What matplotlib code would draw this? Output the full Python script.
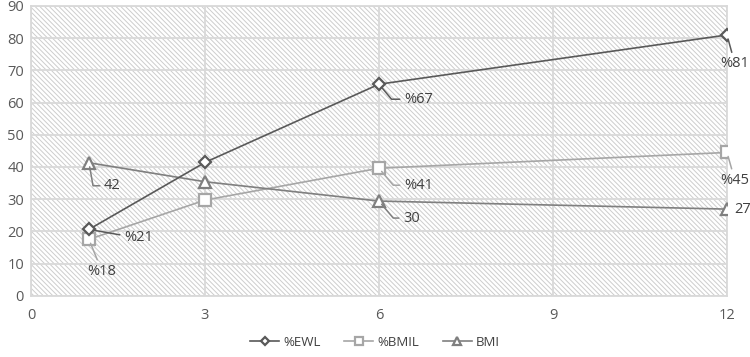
import matplotlib.pyplot as plt
from matplotlib.patches import Rectangle

plt.rcParams['font.family'] = ['Open Sans', 'DejaVu Sans']
plt.rcParams['hatch.linewidth'] = 0.7

# months after surgery
months = [1, 3, 6, 12]
ewl = [20.6, 41.4, 65.7, 81]
bmil = [17.5, 29.7, 39.6, 44.5]
bmi = [41.3, 35.4, 29.4, 26.9]

ewl_labels = ['%21', None, '%67', '%81']
bmil_labels = ['%18', None, '%41', '%45']
bmi_labels = ['42', None, '30', '27']

fig = plt.figure(figsize=(7.5, 3.57), dpi=100)
ax = fig.add_axes([0.0413, 0.1717, 0.928, 0.8115])

# hatched plot background
bg = Rectangle((0, 0), 1, 1, transform=ax.transAxes, facecolor='white',
               edgecolor='#CDCDCD', hatch='\\' * 7, lw=0, zorder=0)
ax.add_patch(bg)

ax.set_xlim(0, 12)
ax.set_ylim(0, 90)
ax.set_xticks([0, 3, 6, 9, 12])
ax.set_yticks(range(0, 91, 10))
ax.grid(True, color='#D9D9D9', lw=1.3, zorder=1)
for s in ax.spines.values():
    s.set_color('#D9D9D9')
    s.set_linewidth(1.3)
ax.tick_params(length=0, labelsize=10.5, colors='#595959')
ax.tick_params(axis='x', pad=9)
ax.tick_params(axis='y', pad=5)

c_ewl, c_bmil, c_bmi = '#595959', '#A6A6A6', '#7F7F7F'
ax.plot(months, ewl, color=c_ewl, lw=1.2, marker='D', ms=6, mfc='white',
        mec=c_ewl, mew=1.6, label='%EWL', zorder=5)
ax.plot(months, bmil, color=c_bmil, lw=1.2, marker='s', ms=8, mfc='white',
        mec=c_bmil, mew=1.6, label='%BMIL', zorder=4)
ax.plot(months, bmi, color=c_bmi, lw=1.2, marker='^', ms=8, mfc='white',
        mec=c_bmi, mew=1.6, label='BMI', zorder=4)

lab_style = dict(textcoords='offset pixels', fontsize=10.5, color='#404040', va='center', zorder=6)


def leader(ax, x, y, text, dx, dy, ha, conn, color):
    if conn is None:
        ax.annotate(text, (x, y), xytext=(dx, dy), ha=ha, **lab_style)
    else:
        ax.annotate(text, (x, y), xytext=(dx, dy), ha=ha,
                    arrowprops=dict(arrowstyle='-', color=color, lw=1.1,
                                    shrinkA=1, shrinkB=3, connectionstyle=conn),
                    **lab_style)


ang = 'angle,angleA=0,angleB=-50,rad=0'
leader(ax, months[0], ewl[0], ewl_labels[0], 35, -8, 'left', 'angle,angleA=0,angleB=-10,rad=0', c_ewl)
leader(ax, months[2], ewl[2], ewl_labels[2], 25, -15, 'left', ang, c_ewl)
leader(ax, months[3], ewl[3], ewl_labels[3], 8, -29, 'center', 'arc3', c_ewl)

leader(ax, months[0], bmil[0], bmil_labels[0], 13, -32, 'center', 'arc3', c_bmil)
leader(ax, months[2], bmil[2], bmil_labels[2], 25, -17, 'left', ang, c_bmil)
leader(ax, months[3], bmil[3], bmil_labels[3], 8, -28, 'center', 'arc3', c_bmil)

leader(ax, months[0], bmi[0], bmi_labels[0], 15, -23, 'left', 'angle,angleA=0,angleB=-80,rad=0', c_bmi)
leader(ax, months[2], bmi[2], bmi_labels[2], 24, -17, 'left', ang, c_bmi)
leader(ax, months[3], bmi[3], bmi_labels[3], 7, 0, 'left', None, c_bmi)

fig.legend(loc='lower center', bbox_to_anchor=(0.5, -0.01), ncol=3, frameon=False,
           fontsize=9.5, handlelength=2.2, columnspacing=1.8, handletextpad=0.3,
           markerscale=0.7, labelcolor='#404040')

plt.savefig('out.png', dpi=100)
